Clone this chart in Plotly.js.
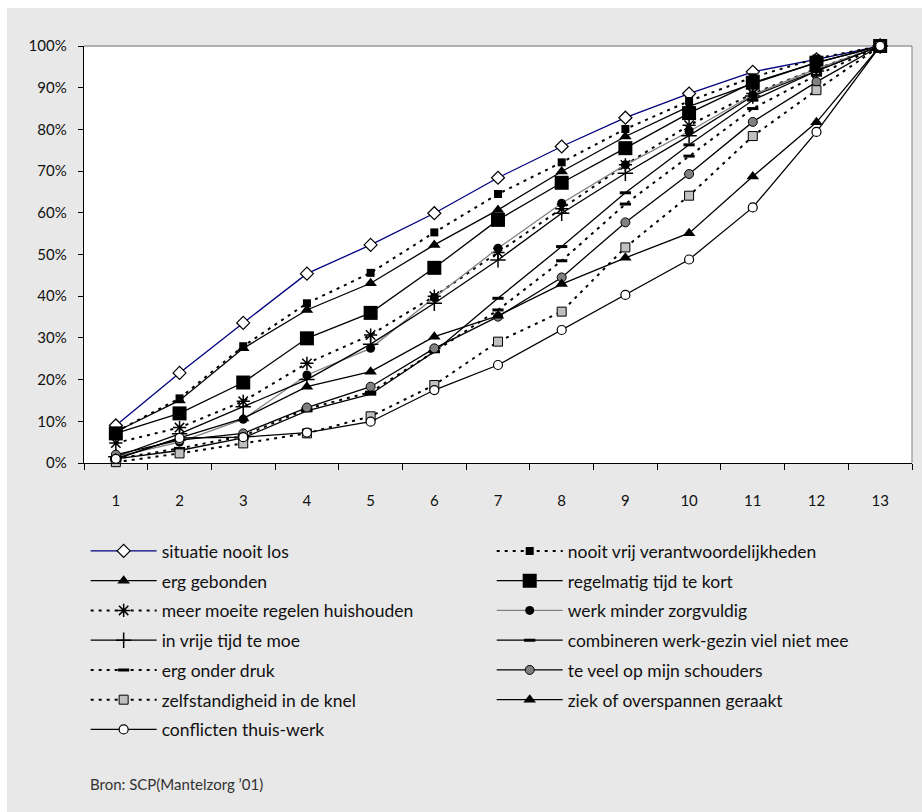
<!DOCTYPE html>
<html>
<head>
<meta charset="utf-8">
<script src="https://cdn.plot.ly/plotly-3.0.1.min.js"></script>
<style>
  html, body { margin: 0; padding: 0; background: #ffffff; }
  #chart { position: absolute; left: 7px; top: 8px; width: 915px; height: 804px; }
</style>
</head>
<body>
<div id="chart"></div>
<script>
// Categories (x axis)
const categories = ['1','2','3','4','5','6','7','8','9','10','11','12','13'];

// Series (cumulative share, 0..1)
const situatieNooitLos          = [0.090, 0.216, 0.336, 0.454, 0.523, 0.599, 0.684, 0.759, 0.828, 0.886, 0.938, 0.968, 1.000];
const nooitVrijVerantwoord      = [0.075, 0.155, 0.280, 0.383, 0.456, 0.553, 0.645, 0.721, 0.801, 0.868, 0.925, 0.970, 1.000];
const ergGebonden               = [0.075, 0.150, 0.275, 0.367, 0.431, 0.523, 0.607, 0.699, 0.783, 0.855, 0.910, 0.960, 1.000];
const regelmatigTijdTeKort      = [0.071, 0.119, 0.193, 0.299, 0.360, 0.468, 0.583, 0.672, 0.755, 0.839, 0.912, 0.960, 1.000];
const meerMoeiteHuishouden      = [0.048, 0.085, 0.148, 0.239, 0.307, 0.400, 0.505, 0.610, 0.715, 0.810, 0.886, 0.945, 1.000];
const werkMinderZorgvuldig      = [0.015, 0.050, 0.105, 0.211, 0.275, 0.397, 0.515, 0.623, 0.715, 0.795, 0.883, 0.945, 1.000];
const vrijeTijdTeMoe            = [0.015, 0.070, 0.135, 0.200, 0.285, 0.383, 0.487, 0.599, 0.695, 0.785, 0.880, 0.940, 1.000];
const combinerenWerkGezin       = [0.010, 0.030, 0.060, 0.125, 0.165, 0.267, 0.395, 0.519, 0.648, 0.763, 0.870, 0.940, 1.000];
const ergOnderDruk              = [0.010, 0.035, 0.065, 0.130, 0.170, 0.267, 0.367, 0.485, 0.621, 0.736, 0.850, 0.930, 1.000];
const teVeelOpSchouders         = [0.020, 0.055, 0.071, 0.133, 0.183, 0.275, 0.351, 0.445, 0.577, 0.693, 0.818, 0.914, 1.000];
const zelfstandigheidKnel       = [0.002, 0.023, 0.047, 0.071, 0.112, 0.187, 0.291, 0.363, 0.517, 0.641, 0.784, 0.894, 1.000];
const ziekOverspannen           = [0.010, 0.060, 0.107, 0.183, 0.219, 0.303, 0.353, 0.429, 0.492, 0.551, 0.687, 0.817, 1.000];
const conflictenThuisWerk       = [0.010, 0.060, 0.062, 0.073, 0.099, 0.175, 0.235, 0.319, 0.403, 0.488, 0.613, 0.794, 1.000];

// Labels
const seriesNames = {
  s1: 'situatie nooit los',
  s2: 'nooit vrij verantwoordelijkheden',
  s3: 'erg gebonden',
  s4: 'regelmatig tijd te kort',
  s5: 'meer moeite regelen huishouden',
  s6: 'werk minder zorgvuldig',
  s7: 'in vrije tijd te moe',
  s8: 'combineren werk-gezin viel niet mee',
  s9: 'erg onder druk',
  s10: 'te veel op mijn schouders',
  s11: 'zelfstandigheid in de knel',
  s12: 'ziek of overspannen geraakt',
  s13: 'conflicten thuis-werk'
};
const sourceText = 'Bron: SCP(Mantelzorg \u201901)';
const yTickVals = [0,0.1,0.2,0.3,0.4,0.5,0.6,0.7,0.8,0.9,1.0];
const yTickText = ['0%','10%','20%','30%','40%','50%','60%','70%','80%','90%','100%'];

const DOT = '3px,5px';
function tr(name, y, opts) {
  return Object.assign({
    type: 'scatter', mode: 'lines+markers', x: categories, y: y, name: name,
    cliponaxis: false, legendgroup: name
  }, opts);
}

const traces = [
  tr(seriesNames.s1, situatieNooitLos, { legend: 'legend',
     line: {color: '#000080', width: 1.3},
     marker: {symbol: 'diamond', size: 10, color: '#ffffff', line: {color: '#000000', width: 1.2}} }),
  tr(seriesNames.s2, nooitVrijVerantwoord, { legend: 'legend2',
     line: {color: '#000000', width: 2, dash: DOT},
     marker: {symbol: 'square', size: 8, color: '#000000'} }),
  tr(seriesNames.s3, ergGebonden, { legend: 'legend',
     line: {color: '#000000', width: 1.3},
     marker: {symbol: 'triangle-up', size: 11, color: '#000000'} }),
  tr(seriesNames.s4, regelmatigTijdTeKort, { legend: 'legend2',
     line: {color: '#000000', width: 1.3},
     marker: {symbol: 'square', size: 14, color: '#000000'} }),
  tr(seriesNames.s5, meerMoeiteHuishouden, { legend: 'legend',
     line: {color: '#000000', width: 2, dash: DOT},
     marker: {symbol: 'asterisk-open', size: 11, color: '#000000', line: {color: '#000000', width: 1.5}} }),
  tr(seriesNames.s6, werkMinderZorgvuldig, { legend: 'legend2',
     line: {color: '#808080', width: 1.3},
     marker: {symbol: 'circle', size: 9, color: '#000000'} }),
  tr(seriesNames.s7, vrijeTijdTeMoe, { legend: 'legend',
     line: {color: '#000000', width: 1.3},
     marker: {symbol: 'cross-thin-open', size: 11, color: '#000000', line: {color: '#000000', width: 1.5}} }),
  tr(seriesNames.s8, combinerenWerkGezin, { legend: 'legend2',
     line: {color: '#000000', width: 1.3},
     marker: {symbol: 'line-ew-open', size: 8, color: '#000000', line: {color: '#000000', width: 3}} }),
  tr(seriesNames.s9, ergOnderDruk, { legend: 'legend',
     line: {color: '#000000', width: 2, dash: DOT},
     marker: {symbol: 'line-ew-open', size: 8, color: '#000000', line: {color: '#000000', width: 3}} }),
  tr(seriesNames.s10, teVeelOpSchouders, { legend: 'legend2',
     line: {color: '#000000', width: 1.3},
     marker: {symbol: 'circle', size: 9, color: '#808080', line: {color: '#000000', width: 1}} }),
  tr(seriesNames.s11, zelfstandigheidKnel, { legend: 'legend',
     line: {color: '#000000', width: 2, dash: DOT},
     marker: {symbol: 'square', size: 9, color: '#c0c0c0', line: {color: '#000000', width: 1}} }),
  tr(seriesNames.s12, ziekOverspannen, { legend: 'legend2',
     line: {color: '#000000', width: 1.3},
     marker: {symbol: 'triangle-up', size: 11, color: '#000000'} }),
  tr(seriesNames.s13, conflictenThuisWerk, { legend: 'legend',
     line: {color: '#000000', width: 1.3},
     marker: {symbol: 'circle', size: 9, color: '#ffffff', line: {color: '#000000', width: 1.2}} })
];

const FONT = 'Lato, "Open Sans", sans-serif';
const legendCommon = {
  orientation: 'v', traceorder: 'grouped', tracegroupgap: 4,
  itemwidth: 66, bgcolor: 'rgba(0,0,0,0)', borderwidth: 0,
  font: {family: FONT, size: 17.5, color: '#111111'},
  yanchor: 'top', xanchor: 'left', itemclick: false, itemdoubleclick: false
};

const layout = {
  width: 915, height: 804,
  paper_bgcolor: '#e8e8e8', plot_bgcolor: '#ffffff',
  margin: {l: 77, r: 10, t: 38, b: 349},
  font: {family: FONT, size: 15, color: '#111111'},
  showlegend: true,
  xaxis: {
    type: 'category', range: [-0.5, 12.5], showgrid: false, zeroline: false,
    showline: true, linecolor: '#000000', linewidth: 1.3,
    ticks: 'outside', tickson: 'boundaries', ticklen: 6, tickcolor: '#000000', tickwidth: 1,
    ticklabelstandoff: 24, tickfont: {family: FONT, size: 15, color: '#111111'}
  },
  yaxis: {
    range: [0, 1], showgrid: false, zeroline: false,
    showline: true, linecolor: '#000000', linewidth: 1.3,
    tickvals: yTickVals, ticktext: yTickText,
    ticks: 'outside', ticklen: 5, tickcolor: '#000000', tickwidth: 1,
    ticklabelstandoff: 8, tickfont: {family: FONT, size: 15, color: '#111111'}
  },
  legend: Object.assign({}, legendCommon, {x: 0.002, y: -0.168}),
  legend2: Object.assign({}, legendCommon, {x: 0.4924, y: -0.168}),
  shapes: [
    {type: 'line', xref: 'paper', yref: 'paper', x0: 0, x1: 1, y0: 1, y1: 1, line: {color: '#9a9a9a', width: 1.3}, layer: 'below'},
    {type: 'line', xref: 'paper', yref: 'paper', x0: 1, x1: 1, y0: 0, y1: 1, line: {color: '#9a9a9a', width: 1.3}, layer: 'below'}
  ],
  annotations: [
    {text: sourceText, xref: 'paper', yref: 'paper', x: 0.0052, y: -0.77,
     xanchor: 'left', yanchor: 'middle', showarrow: false,
     font: {family: FONT, size: 15, color: '#333333'}}
  ]
};

Plotly.newPlot('chart', traces, layout, {displayModeBar: false, staticPlot: true});
</script>
</body>
</html>
